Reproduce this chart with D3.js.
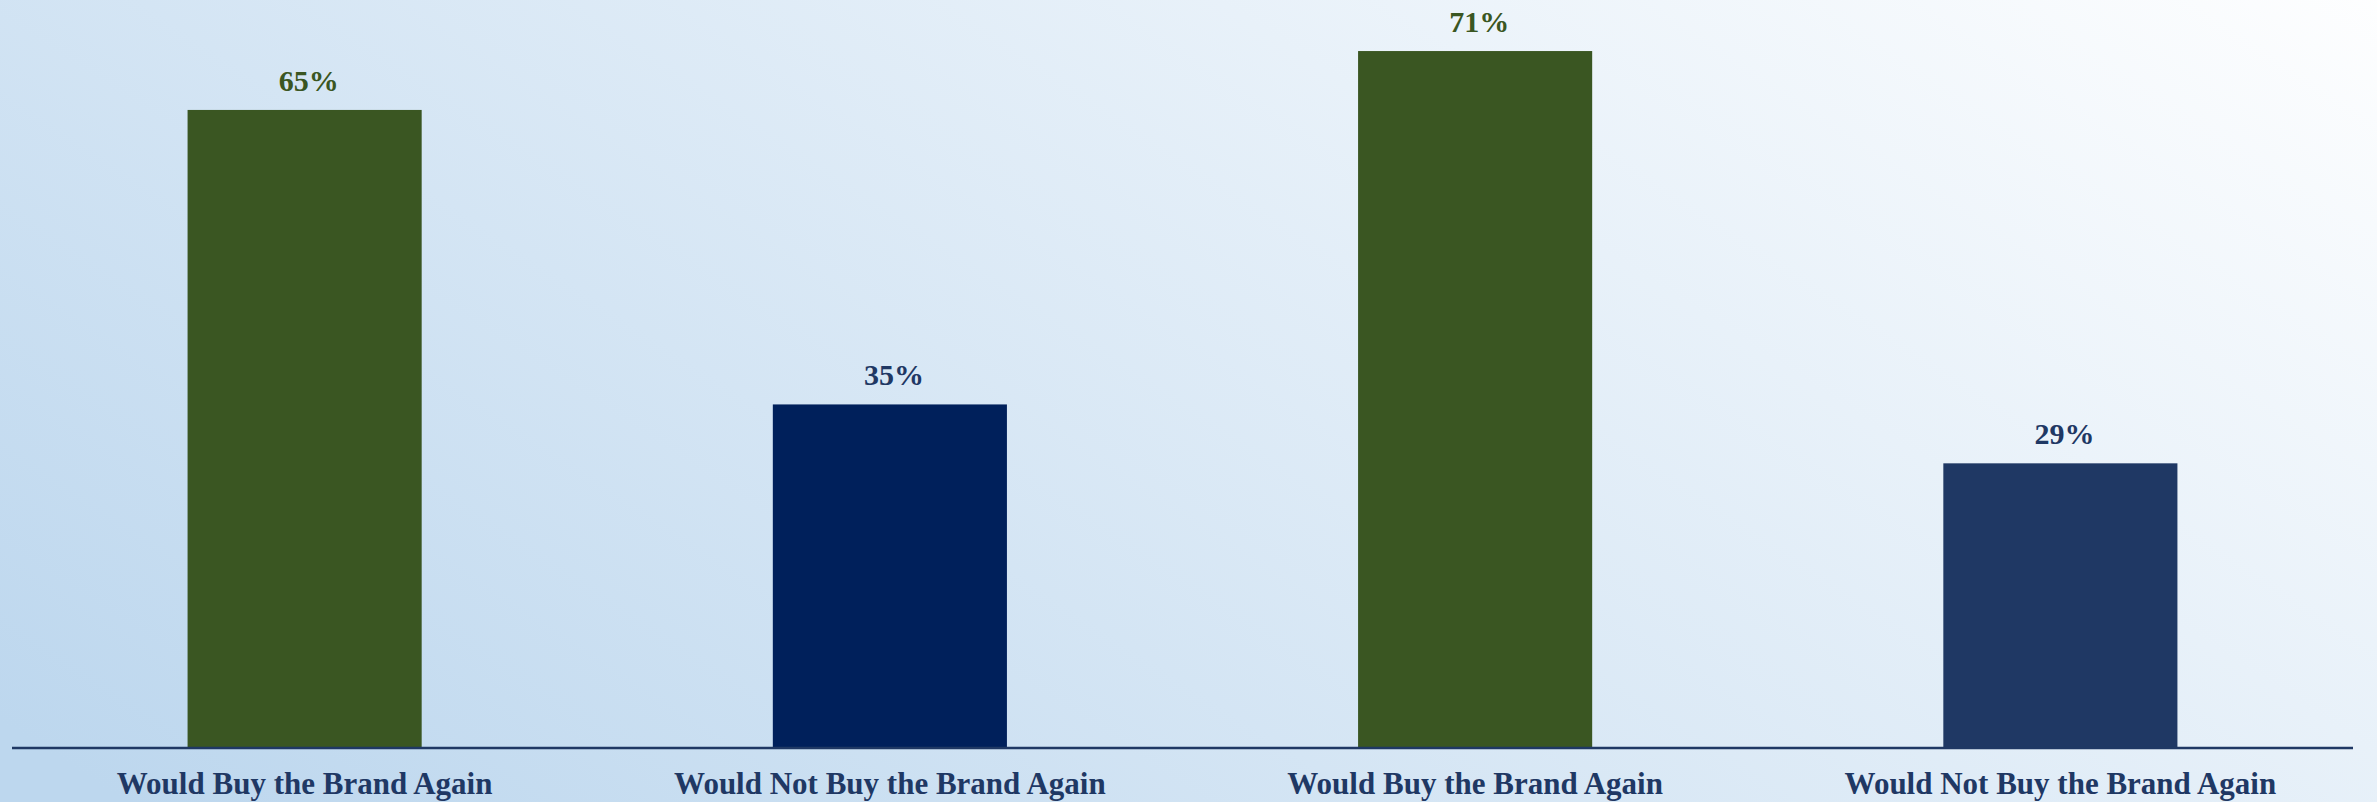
<!doctype html>
<html lang="en">
<head>
  <meta charset="utf-8">
  <script src="https://cdn.jsdelivr.net/npm/d3@7"></script>
  <style>
    html, body { margin: 0; padding: 0; overflow: hidden; }
    svg { display: block; }
  </style>
</head>
<body>
  <div id="chart"></div>
  <script>
  // chart data
  var categories = ["Would Buy the Brand Again", "Would Not Buy the Brand Again",
                    "Would Buy the Brand Again", "Would Not Buy the Brand Again"];
  var values = [65, 35, 71, 29];
  var barColors = ["#3a5622", "#00205b", "#3a5622", "#1f3864"];
  var labelColors = ["#3a5622", "#1f3864", "#3a5622", "#1f3864"];

  var width = 2377, height = 802;
  var baseline = 748;

  var svg = d3.select("#chart")
      .append("svg")
      .attr("width", width)
      .attr("height", height);

  // background gradient, blue bottom-left to white top-right
  var grad = svg.append("defs").append("linearGradient")
      .attr("id", "bg")
      .attr("gradientUnits", "userSpaceOnUse")
      .attr("x1", -330).attr("y1", 506)
      .attr("x2", 733).attr("y2", -1127);
  grad.append("stop").attr("offset", 0).attr("stop-color", "#bdd7ee");
  grad.append("stop").attr("offset", 1).attr("stop-color", "#ffffff");

  svg.append("rect")
      .attr("width", width)
      .attr("height", height)
      .attr("fill", "url(#bg)");

  var idx = d3.range(values.length);

  var x = d3.scaleBand()
      .domain(idx)
      .range([12, 2353])
      .paddingInner(0.6)
      .paddingOuter(0.3);

  var y = d3.scaleLinear()
      .domain([0, 76.2])
      .range([baseline, 0]);

  svg.selectAll("rect.bar")
      .data(idx)
      .enter()
      .append("rect")
      .attr("class", "bar")
      .attr("x", function (i) { return x(i); })
      .attr("y", function (i) { return y(values[i]); })
      .attr("width", x.bandwidth())
      .attr("height", function (i) { return baseline - y(values[i]); })
      .attr("fill", function (i) { return barColors[i]; });

  // value labels
  svg.selectAll("text.value")
      .data(idx)
      .enter()
      .append("text")
      .attr("class", "value")
      .attr("x", function (i) { return x(i) + x.bandwidth() / 2 + 4; })
      .attr("y", function (i) { return y(values[i]) - 19; })
      .attr("text-anchor", "middle")
      .attr("font-family", "'Liberation Serif', 'DejaVu Serif', serif")
      .attr("font-weight", "bold")
      .attr("font-size", 30)
      .attr("fill", function (i) { return labelColors[i]; })
      .text(function (i) { return values[i] + "%"; });

  // x axis line
  svg.append("line")
      .attr("x1", 12)
      .attr("x2", 2353)
      .attr("y1", baseline)
      .attr("y2", baseline)
      .attr("stroke", "#1f3864")
      .attr("stroke-width", 2.5);

  // category labels
  svg.selectAll("text.cat")
      .data(idx)
      .enter()
      .append("text")
      .attr("class", "cat")
      .attr("x", function (i) { return x(i) + x.bandwidth() / 2; })
      .attr("y", 794)
      .attr("text-anchor", "middle")
      .attr("font-family", "'Liberation Serif', 'DejaVu Serif', serif")
      .attr("font-weight", "bold")
      .attr("font-size", 31)
      .attr("fill", "#1f3864")
      .text(function (i) { return categories[i]; });
  </script>
</body>
</html>
